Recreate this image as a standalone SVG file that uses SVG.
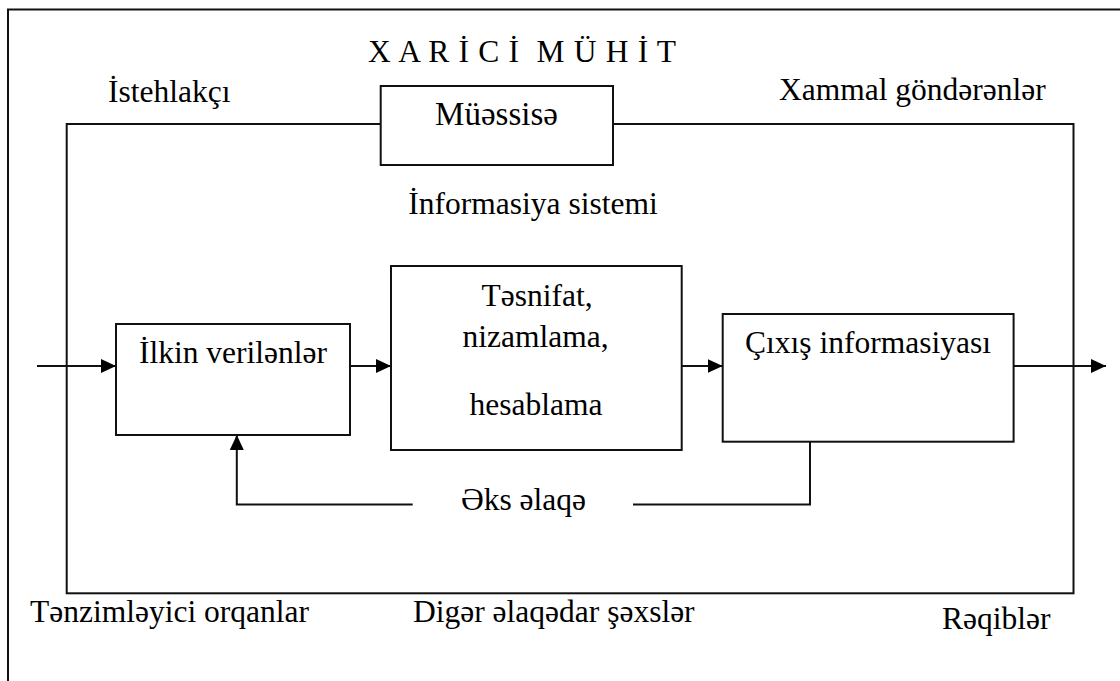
<svg xmlns="http://www.w3.org/2000/svg" width="1120" height="681" viewBox="0 0 1120 681">
<defs>
<style>
.t{font-family:"Liberation Serif","Times New Roman",serif;font-size:31.5px;fill:#000}
.m{text-anchor:middle}
.ln{fill:none;stroke:#111;stroke-width:2}
.bx{fill:#fff;stroke:#111;stroke-width:2}
</style>
<marker id="ah" markerUnits="userSpaceOnUse" markerWidth="15" markerHeight="14" refX="15" refY="7" orient="auto">
<path d="M0,0 L15,7 L0,14 z" fill="#000"/>
</marker>
</defs>
<rect width="1120" height="681" fill="#fff"/>
<g id="outer-frame">
<path class="ln" d="M8,681 V9.5 H1120" stroke-width="1.8"/>
</g>
<text class="t" x="368" y="62" textLength="308" lengthAdjust="spacing" xml:space="preserve">X A R İ C İ  M Ü H İ T</text>
<text class="t" x="108" y="101.5">İstehlakçı</text>
<text class="t" x="779" y="100">Xammal göndərənlər</text>
<g id="information-system">
<rect class="ln" x="66.7" y="124" width="1006.8" height="469.3"/>
<text class="t m" x="533" y="214">İnformasiya sistemi</text>
</g>
<g id="muessise">
<rect class="bx" x="380.7" y="86" width="232.3" height="79"/>
<text class="t m" x="496.5" y="125" style="font-size:33px">Müəssisə</text>
</g>
<g id="connectors">
<line class="ln" x1="37" y1="366" x2="116" y2="366" marker-end="url(#ah)"/>
<line class="ln" x1="350" y1="366" x2="391" y2="366" marker-end="url(#ah)"/>
<line class="ln" x1="681.7" y1="366" x2="722.7" y2="366" marker-end="url(#ah)"/>
<line class="ln" x1="1013.6" y1="366" x2="1106" y2="366" marker-end="url(#ah)"/>
<polyline class="ln" points="810,441.7 810,504.5 633,504.5"/>
<polyline class="ln" points="412.7,504.5 236.8,504.5 236.8,435" marker-end="url(#ah)"/>
<text class="t m" x="523.5" y="510">Əks əlaqə</text>
</g>
<g id="ilkin">
<rect class="bx" x="116" y="324" width="234" height="111"/>
<text class="t m" x="233" y="363">İlkin verilənlər</text>
</g>
<g id="emal">
<rect class="bx" x="391" y="266" width="290.7" height="184"/>
<text class="t m" x="537" y="306">Təsnifat,</text>
<text class="t m" x="535.5" y="347">nizamlama,</text>
<text class="t m" x="536" y="415">hesablama</text>
</g>
<g id="cixis">
<rect class="bx" x="722.7" y="314" width="290.9" height="127.7"/>
<text class="t m" x="868" y="353">Çıxış informasiyası</text>
</g>
<text class="t" x="30" y="622">Tənzimləyici orqanlar</text>
<text class="t" x="413" y="622">Digər əlaqədar şəxslər</text>
<text class="t" x="942" y="629">Rəqiblər</text>
</svg>
